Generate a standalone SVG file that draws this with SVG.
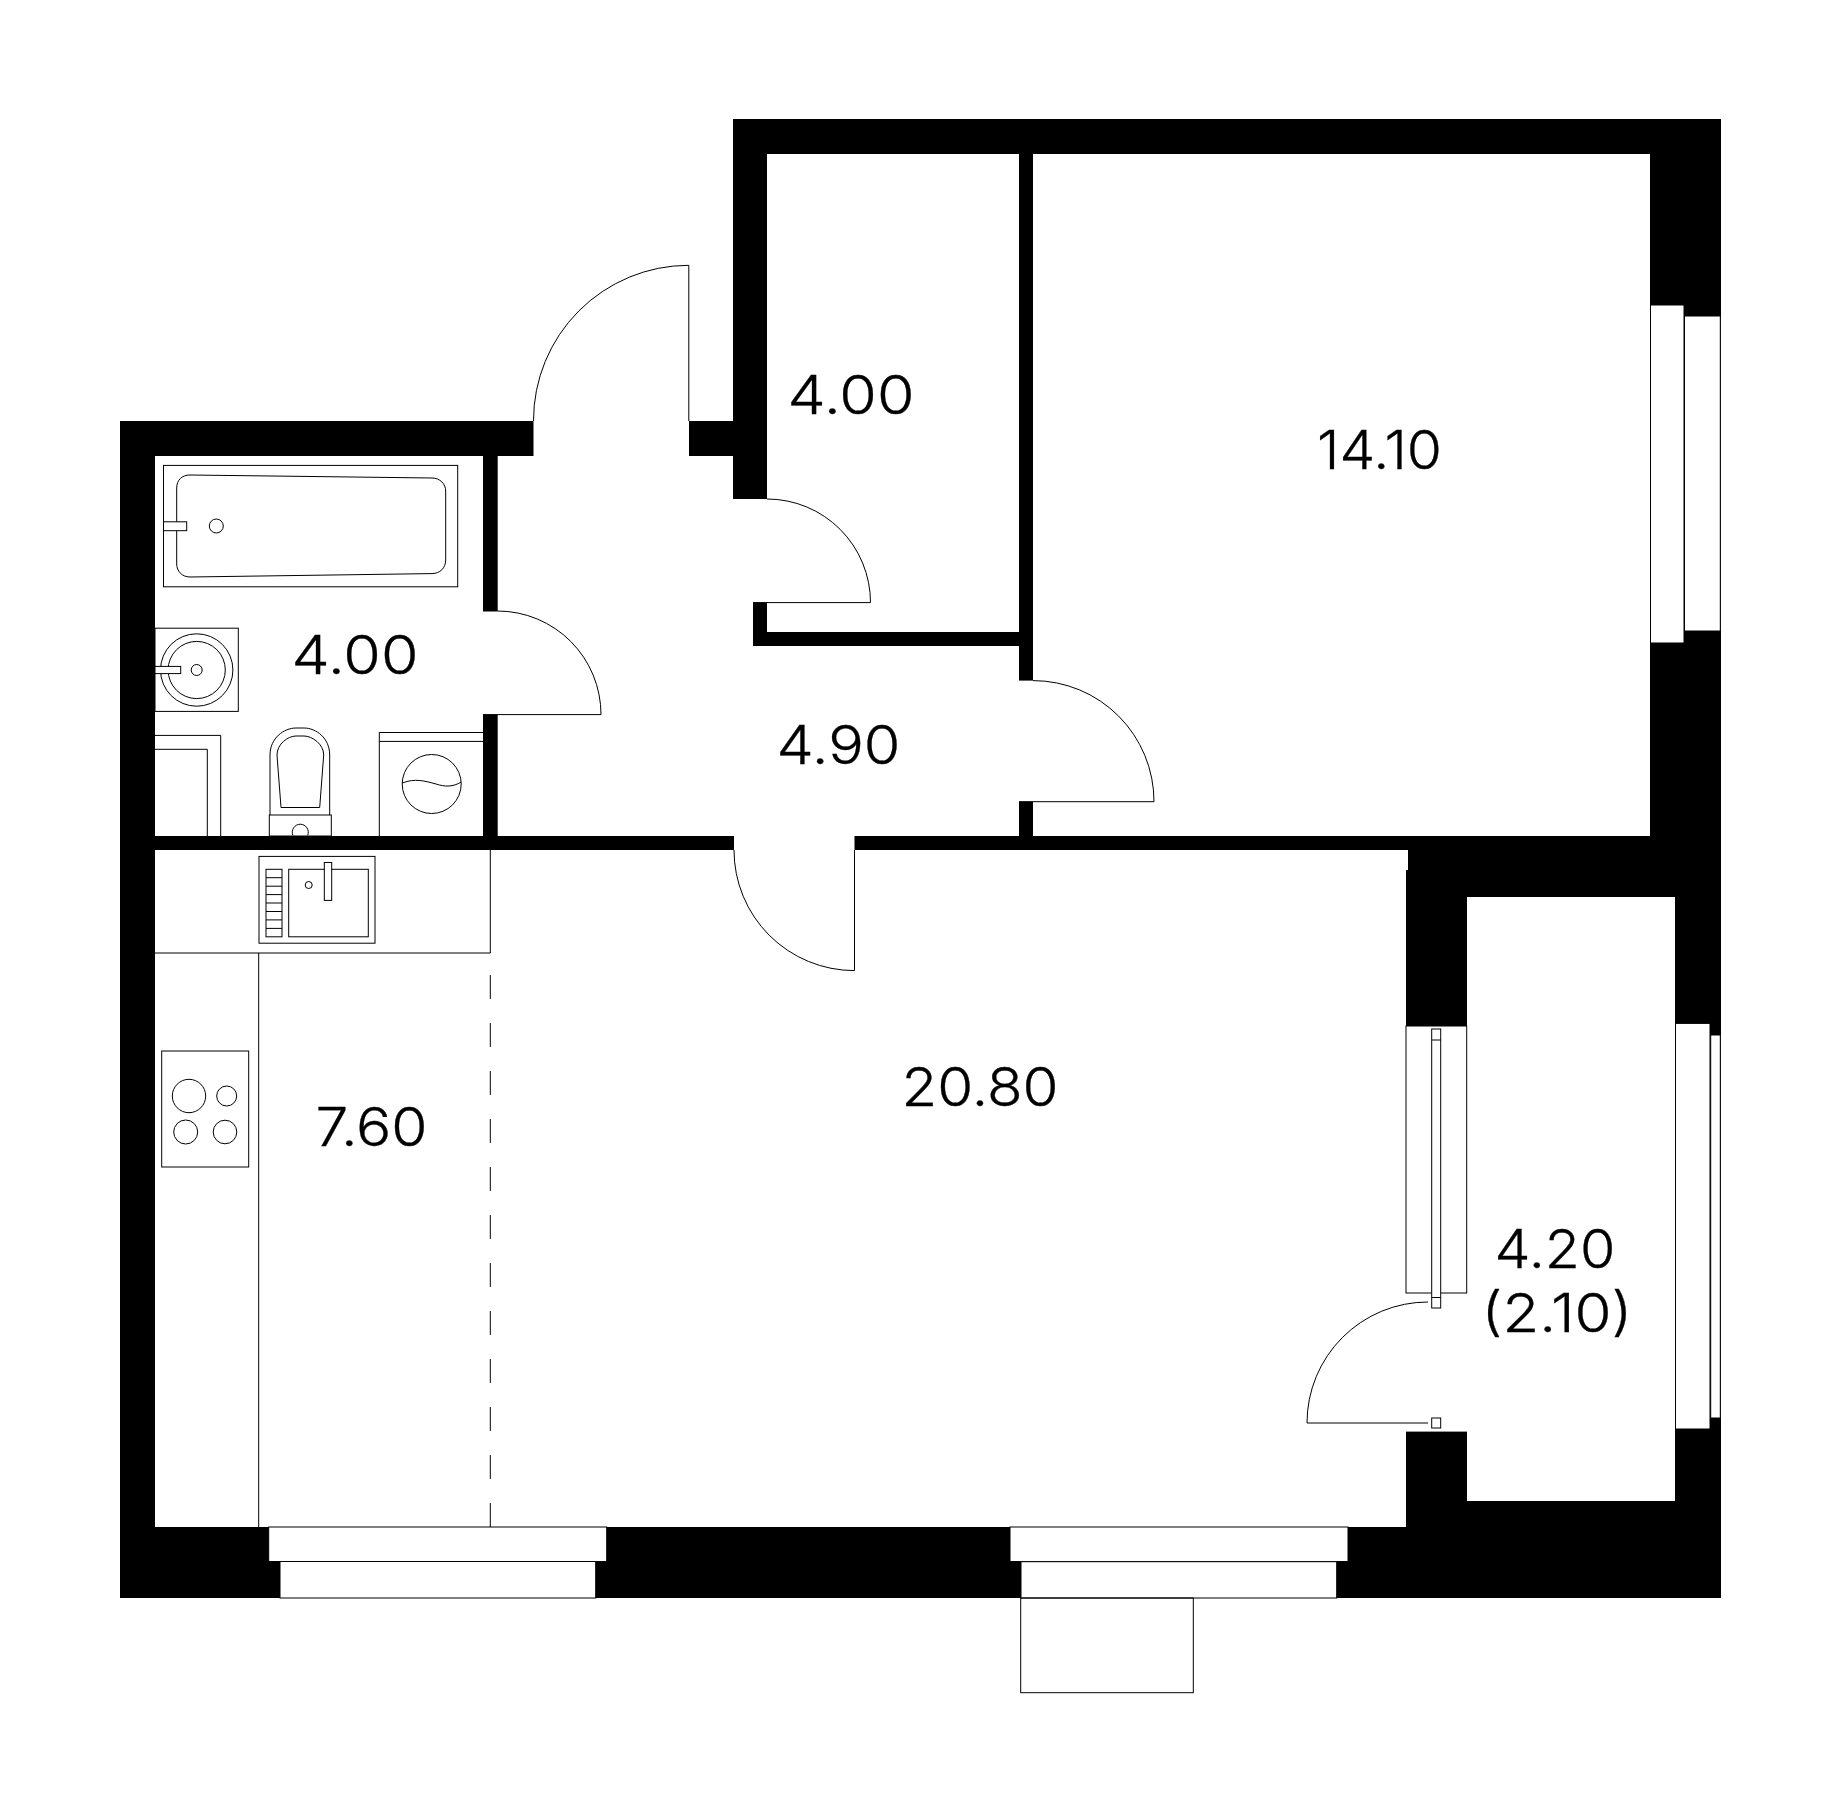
<svg xmlns="http://www.w3.org/2000/svg" width="1841" height="1812" viewBox="0 0 1841 1812">
<style>
.w{fill:#000;stroke:none}
.l{fill:none;stroke:#000;stroke-width:1}
.g{fill:#fff;stroke:#000;stroke-width:1}
.t{font-family:"Inter","Liberation Sans",sans-serif;font-weight:300;font-size:53px;fill:#000;stroke:#000;stroke-width:.3}
</style>
<rect width="1841" height="1812" fill="#fff"/>
<g id="walls">
<rect class="w" x="120" y="421" width="35" height="1177"/>
<rect class="w" x="120" y="421" width="413.5" height="35"/>
<rect class="w" x="689" y="421" width="44" height="35"/>
<rect class="w" x="733" y="119" width="34" height="380"/>
<rect class="w" x="733" y="119" width="988" height="35"/>
<rect class="w" x="1650" y="119" width="71" height="731"/>
<rect class="w" x="155" y="836" width="579" height="14"/>
<rect class="w" x="854.5" y="836" width="866.5" height="14"/>
<rect class="w" x="1408" y="850" width="313" height="47"/>
<rect class="w" x="1406" y="870" width="61" height="156"/>
<rect class="w" x="1408" y="850" width="59" height="20"/>
<rect class="w" x="1675" y="897" width="46" height="630"/>
<rect class="w" x="1406" y="1431.6" width="61" height="96"/>
<rect class="w" x="120" y="1527" width="1601" height="71"/>
<rect class="w" x="1467" y="1501" width="254" height="30"/>
<rect class="w" x="483" y="456" width="14.7" height="155"/>
<rect class="w" x="483" y="714.6" width="14.7" height="122"/>
<rect class="w" x="1019" y="154" width="14" height="526.6"/>
<rect class="w" x="1019" y="801.7" width="14" height="35"/>
<rect class="w" x="753" y="602.6" width="14" height="43.4"/>
<rect class="w" x="753" y="632" width="266" height="14"/>
</g>
<g id="windows">
<rect class="g" x="1650.5" y="305" width="33.5" height="338"/>
<rect class="g" x="1684.5" y="316" width="35.8" height="315"/>
<rect class="g" x="1675.5" y="1023.4" width="34.5" height="405.6"/>
<rect class="g" x="1710.7" y="1035" width="9.6" height="383"/>
<rect class="g" x="268.7" y="1527" width="338" height="34.5"/>
<rect class="g" x="280" y="1561.5" width="315.7" height="36.5"/>
<rect class="g" x="1010" y="1527" width="338" height="34.5"/>
<rect class="g" x="1021" y="1561.7" width="315.7" height="36.3"/>
<rect class="l" x="1020.7" y="1598" width="172.6" height="94.7"/>
</g>
<g id="balcony-door">
<rect class="l" x="1406" y="1026" width="60.7" height="267"/>
<rect class="g" x="1431.7" y="1029" width="9" height="279"/>
<path class="l" d="M1431.7 1040H1440.7M1431.7 1297.5H1440.7"/>
<rect class="g" x="1431.7" y="1418" width="9" height="10"/>
<path class="l" d="M1428 1302A121 121 0 0 0 1307 1423H1428"/>
</g>
<g id="doors">
<path class="l" d="M533.5 421A155.3 155.3 0 0 1 688.8 265.3V421"/>
<path class="l" d="M767 499A103.6 103.6 0 0 1 870.5 602.6H753"/>
<path class="l" d="M483 611H497.7A103.6 103.6 0 0 1 601 714.6H483"/>
<path class="l" d="M1033 680.6A121 121 0 0 1 1154 801.7H1019"/>
<path class="l" d="M734 850A120.5 120.5 0 0 0 854.5 970.6V850"/>
</g>
<g id="bath">
<rect class="l" x="163.5" y="465.4" width="294.2" height="121.4"/>
<path class="l" d="M176.7 488C176.7 480 182 475 190 475L432 478C440 478 445.7 484 445.7 491V560C445.7 568 440 573.6 432 573.6L190 577C182 577 176.7 571 176.7 564Z"/>
<rect class="g" x="163.5" y="521.8" width="23.2" height="8.9"/>
<circle class="l" cx="216.3" cy="526" r="7"/>
</g>
<g id="basin">
<rect class="l" x="155" y="628.2" width="83.3" height="83.2"/>
<circle class="l" cx="196.7" cy="670" r="36.2"/>
<circle class="l" cx="196.7" cy="670" r="28.6"/>
<rect class="g" x="155" y="666.4" width="25.7" height="7.2"/>
<circle class="l" cx="196.7" cy="670" r="5.5"/>
</g>
<g id="cabinet">
<path class="l" d="M155 735.4H220.7V836M155 749.3H207.3V836"/>
</g>
<g id="toilet">
<path class="l" d="M270 815V755C270 738 284 728 296 728H304C316 728 329.7 738 329.7 755V815"/>
<path class="l" d="M277 755C277 744 288 736 296 736H304C312 736 323.7 744 323.7 755L319.7 807.5H281Z"/>
<rect class="l" x="269.3" y="815" width="62" height="21"/>
<path class="l" d="M293 835.5A8 8 0 1 1 307.6 835.5"/>
</g>
<g id="washer">
<path class="l" d="M379.3 836V732.5H483M379.3 741.4H483"/>
<circle class="l" cx="431.7" cy="784" r="29.5"/>
<path class="l" d="M402.3 783C415 778 425 781 436 784C445 787 453 787 461.3 782"/>
</g>
<g id="kitchen">
<path class="l" d="M155 953H490.3V850M258.7 953V1527"/>
<path class="l" d="M490.3 975V1527" stroke-dasharray="24 24"/>
<rect class="l" x="259" y="856.4" width="116" height="86.8"/>
<rect class="l" x="266" y="869.3" width="16" height="67.5"/>
<path class="l" d="M266 877.7H282M266 886.2H282M266 894.6H282M266 903H282M266 911.5H282M266 919.9H282M266 928.4H282"/>
<rect class="l" x="288.7" y="869.3" width="79.6" height="67.5"/>
<rect class="g" x="324.3" y="862.5" width="7.4" height="37.9"/>
<circle class="l" cx="308.7" cy="885" r="3.5"/>
<rect class="l" x="161.7" y="1051" width="87" height="116"/>
<circle class="l" cx="189" cy="1096" r="16.7"/>
<circle class="l" cx="226.7" cy="1096" r="10"/>
<circle class="l" cx="185.7" cy="1132" r="12"/>
<circle class="l" cx="225" cy="1132" r="11.8"/>
</g>
<g id="labels">
<text class="t" x="291.5" y="673.6" textLength="127" lengthAdjust="spacingAndGlyphs">4.00</text>
<text class="t" x="787.5" y="414" textLength="127" lengthAdjust="spacingAndGlyphs">4.00</text>
<text class="t" x="776.5" y="764" textLength="124" lengthAdjust="spacingAndGlyphs">4.90</text>
<text class="t" x="315.5" y="1146" textLength="112" lengthAdjust="spacingAndGlyphs">7.60</text>
<text class="t" x="1317" y="468.5" textLength="125" lengthAdjust="spacingAndGlyphs">14.10</text>
<text class="t" x="901.5" y="1106" textLength="157" lengthAdjust="spacingAndGlyphs">20.80</text>
<text class="t" x="1494.5" y="1267.7" textLength="121" lengthAdjust="spacingAndGlyphs">4.20</text>
<text class="t" x="1481.5" y="1332" textLength="151" lengthAdjust="spacingAndGlyphs">(2.10)</text>
</g>
</svg>
